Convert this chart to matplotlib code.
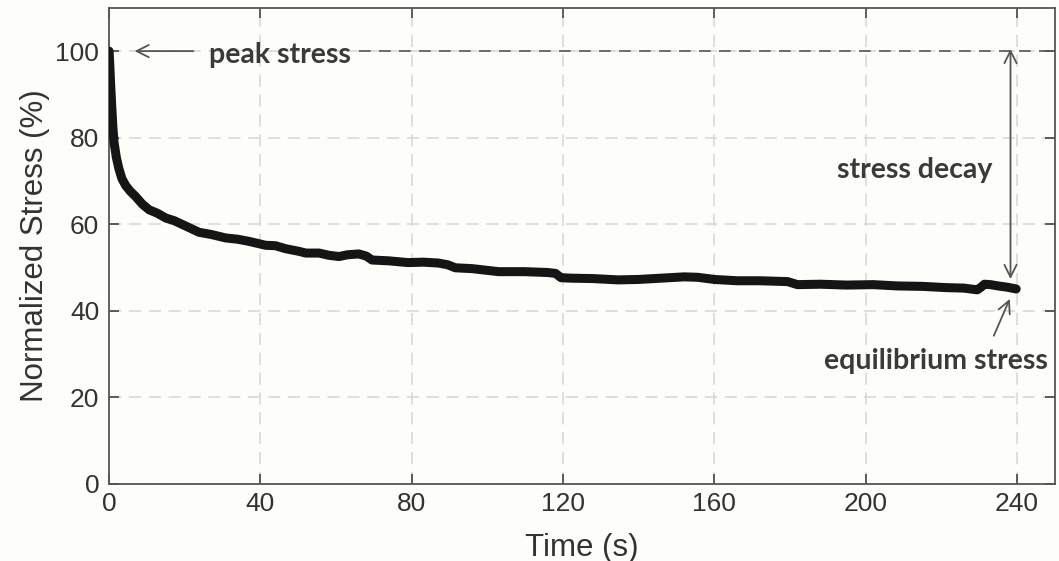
import matplotlib.pyplot as plt
import numpy as np
from matplotlib.ticker import MultipleLocator

# values
time_s = [0, 0.15, 0.4, 0.7, 1.0, 1.3, 1.9, 2.6, 3.4, 4.4, 5.6, 7.0, 8.8, 10.6, 12.8,
          15.0, 17.2, 19.4, 21.6, 23.8, 27.0, 30.8, 34.0, 37.0, 41.4, 44.0, 46.7,
          50.2, 52.0, 55.5, 58.0, 60.8, 63.0, 66.0, 68.0, 69.5, 74.0, 79.0, 83.0,
          87.0, 89.5, 91.5, 96.0, 103.0, 110.0, 116.0, 118.0, 119.5, 122.0, 128.0,
          134.5, 140.0, 146.0, 152.0, 155.6, 160.0, 166.0, 172.0, 179.4, 182.0,
          188.0, 195.0, 202.0, 208.4, 215.0, 221.6, 226.0, 229.5, 230.5, 231.4,
          233.0, 235.0, 237.5, 239.8]
stress = [100, 97.5, 92.5, 87.3, 82.5, 79.0, 75.5, 72.8, 70.5, 68.9, 67.6, 66.4,
          64.6, 63.3, 62.5, 61.4, 60.8, 59.9, 59.0, 58.1, 57.6, 56.8, 56.5, 56.0,
          55.1, 55.0, 54.3, 53.7, 53.3, 53.3, 52.8, 52.5, 52.9, 53.1, 52.6, 51.7,
          51.5, 51.1, 51.2, 51.0, 50.6, 49.9, 49.7, 49.0, 49.0, 48.8, 48.6, 47.6,
          47.5, 47.4, 47.1, 47.2, 47.5, 47.8, 47.7, 47.2, 46.9, 46.9, 46.7, 46.0,
          46.1, 45.9, 46.0, 45.7, 45.6, 45.3, 45.2, 44.8, 45.4, 46.1, 46.0, 45.7,
          45.4, 45.0]

x_ticks = [0, 40, 80, 120, 160, 200, 240]
y_ticks = [0, 20, 40, 60, 80, 100]

text_col = '#333333'
plt.rcParams['font.family'] = ['Liberation Sans', 'DejaVu Sans']

fig = plt.figure(figsize=(10.59, 5.61), dpi=100, facecolor='#fdfdf9')
ax = fig.add_axes([0.103, 0.138, 0.893, 0.848])
ax.set_facecolor('#fdfdf9')

ax.plot(time_s, stress, color='#151515', linewidth=6.5, solid_capstyle='round',
        solid_joinstyle='round', zorder=3)

ax.set_xlim(0, 250)
ax.set_ylim(0, 110)
ax.set_xticks(x_ticks)
ax.set_yticks(y_ticks)
ax.grid(True, color='#d6d6d6', linestyle=(0, (8, 5)), linewidth=1.1, zorder=0)

ax.tick_params(axis='both', which='major', direction='in', length=7, width=1.2,
               top=True, right=True, labelsize=19, colors='#444444',
               labelcolor=text_col)
ax.tick_params(axis='x', pad=6)
ax.tick_params(axis='y', pad=7)
for s in ax.spines.values():
    s.set_color('#555555')
    s.set_linewidth(1.3)

ax.set_xlabel('Time (s)', fontsize=22.5, color=text_col, labelpad=12)
ax.set_ylabel('Normalized Stress (%)', fontsize=22.5, color=text_col, labelpad=4)

# reference line at peak stress
ax.plot([66, 250], [100, 100], color='#555555', linestyle=(0, (7, 5)), linewidth=1.2,
        zorder=2)

ann_font = dict(family=['Lato', 'DejaVu Sans'], fontsize=20.5, fontweight='bold',
                color='#3a3a3a')
arr = dict(arrowstyle='->', color='#555555', lw=1.3, mutation_scale=22)

ax.annotate('', xy=(6, 100), xytext=(23, 100), arrowprops=arr)
ax.text(26.3, 99.2, 'peak stress', ha='left', va='center', **ann_font)

ax.annotate('', xy=(238.3, 100.5), xytext=(238.3, 47.3),
            arrowprops=dict(arrowstyle='<->', color='#555555', lw=1.3,
                            mutation_scale=22, shrinkA=0, shrinkB=0))
ax.text(213, 72.6, 'stress decay', ha='center', va='center', **ann_font)

ax.annotate('', xy=(238.4, 43.3), xytext=(233.6, 33.6), arrowprops=arr)
ax.text(218.7, 28.4, 'equilibrium stress', ha='center', va='center', **ann_font)

fig.savefig('out.png', dpi=100, facecolor=fig.get_facecolor())
